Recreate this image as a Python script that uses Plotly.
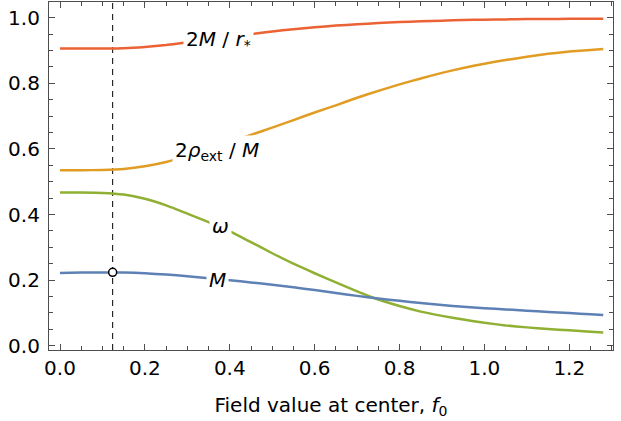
import plotly.graph_objects as go

# Sample points in the central field value f0
f0 = [0.0, 0.05, 0.1, 0.15, 0.2, 0.25, 0.3, 0.35, 0.4, 0.45, 0.5, 0.55, 0.6,
      0.65, 0.7, 0.75, 0.8, 0.85, 0.9, 0.95, 1.0, 1.05, 1.1, 1.15, 1.2, 1.25, 1.28]

# Compactness 2M / r_*
compactness = [0.906, 0.906, 0.906, 0.907, 0.911, 0.917, 0.925, 0.934, 0.942, 0.950,
               0.958, 0.965, 0.971, 0.976, 0.980, 0.984, 0.987, 0.989, 0.991, 0.993,
               0.994, 0.995, 0.996, 0.996, 0.997, 0.997, 0.997]

# Ratio 2 rho_ext / M
rho_ratio = [0.535, 0.535, 0.536, 0.539, 0.547, 0.560, 0.579, 0.600, 0.621, 0.643,
             0.665, 0.688, 0.711, 0.733, 0.756, 0.777, 0.797, 0.815, 0.832, 0.847,
             0.860, 0.871, 0.881, 0.890, 0.897, 0.902, 0.905]

# Frequency omega
omega = [0.467, 0.467, 0.466, 0.461, 0.448, 0.428, 0.403, 0.377, 0.349, 0.316,
         0.282, 0.250, 0.221, 0.193, 0.166, 0.141, 0.121, 0.104, 0.091, 0.080,
         0.070, 0.062, 0.056, 0.051, 0.047, 0.043, 0.040]

# Mass M
mass = [0.222, 0.223, 0.2235, 0.2235, 0.221, 0.217, 0.212, 0.206, 0.200, 0.193,
        0.186, 0.178, 0.170, 0.161, 0.152, 0.144, 0.137, 0.130, 0.124, 0.119,
        0.1145, 0.1105, 0.107, 0.103, 0.0995, 0.096, 0.094]

# Maximum-mass configuration
f0_max = 0.124
mass_max = 0.224

x_ticks = [0.0, 0.2, 0.4, 0.6, 0.8, 1.0, 1.2]
y_ticks = [0.0, 0.2, 0.4, 0.6, 0.8, 1.0]

FONT = "DejaVu Sans"
FS = 20

series = [
    (compactness, "#EB6235", "2<i>M</i> / <i>r</i><sub>*</sub>", 0.374, 0.931),
    (rho_ratio, "#E19C24", "2<i>ρ</i><sub>ext</sub> / <i>M</i>", 0.371, 0.594),
    (omega, "#8FB032", "<i>ω</i>", 0.377, 0.364),
    (mass, "#5E81B5", "<i>M</i>", 0.372, 0.200),
]

fig = go.Figure()

fig.add_trace(go.Scatter(
    x=[f0_max, f0_max], y=[-0.013, 1.048], mode="lines",
    line=dict(color="black", width=1, dash="6px,5px"), hoverinfo="skip",
))

for ys, color, _, _, _ in series:
    fig.add_trace(go.Scatter(
        x=f0, y=ys, mode="lines",
        line=dict(color=color, width=2.5, shape="spline", smoothing=0.5),
    ))

fig.add_trace(go.Scatter(
    x=[f0_max], y=[mass_max], mode="markers",
    marker=dict(size=8, color="white", line=dict(color="black", width=1.5)),
))

for _, _, label, lx, ly in series:
    fig.add_annotation(
        x=lx, y=ly, text=label, showarrow=False,
        font=dict(family=FONT, size=FS, color="black"),
        bgcolor="white", borderpad=2,
    )

axis_common = dict(
    showgrid=False, zeroline=False, showline=True, linecolor="#4d4d4d", linewidth=1.2,
    mirror="allticks", ticks="inside", ticklen=6, tickwidth=1, tickcolor="#4d4d4d",
    tickfont=dict(family=FONT, size=FS, color="black"),
    minor=dict(ticks="inside", ticklen=3.5, tickwidth=1, tickcolor="#4d4d4d", dtick=0.05),
)

fig.update_xaxes(
    range=[-0.026, 1.303], tickvals=x_ticks, ticktext=[f"{v:.1f}" for v in x_ticks],
    ticklabelstandoff=0,
    title=dict(text="Field value at center, <i>f</i><sub>0</sub>",
               font=dict(family=FONT, size=FS, color="black"), standoff=18),
    **axis_common,
)
fig.update_yaxes(
    range=[-0.013, 1.048], tickvals=y_ticks, ticktext=[f"{v:.1f}" for v in y_ticks],
    ticklabelstandoff=4,
    **axis_common,
)

fig.update_layout(
    width=621, height=421, showlegend=False,
    margin=dict(l=49, r=8, t=2, b=71),
    paper_bgcolor="white", plot_bgcolor="white",
)

fig.write_html("out.html")
